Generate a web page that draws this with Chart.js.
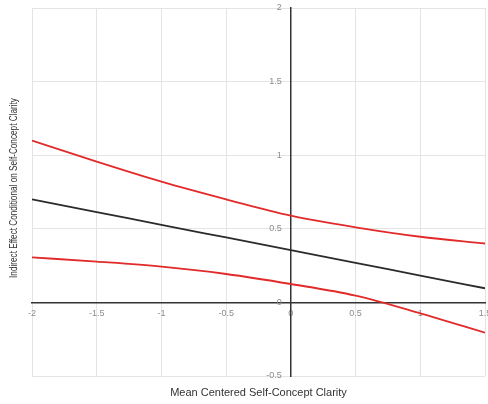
<!DOCTYPE html>
<html>
<head>
<meta charset="utf-8">
<script src="https://cdn.jsdelivr.net/npm/chart.js@4/dist/chart.umd.min.js"></script>
<style>
  html, body { margin: 0; padding: 0; background: #fff; }
  #wrap { width: 488px; height: 404px; }
</style>
</head>
<body>
<div id="wrap"><canvas id="chart"></canvas></div>
<script>
const xValues = [-2, -1.5, -1, -0.5, 0, 0.5, 1, 1.5];
const effect = [0.70, 0.614, 0.527, 0.441, 0.355, 0.269, 0.182, 0.096];
const upperCI = [1.10, 0.956, 0.82, 0.70, 0.589, 0.51, 0.446, 0.40];
const lowerCI = [0.306, 0.277, 0.243, 0.193, 0.125, 0.046, -0.074, -0.206];
const xTitle = 'Mean Centered Self-Concept Clarity';
const yTitle = 'Indirect Effect Conditional on Self-Concept Clarity';

const pts = ys => xValues.map((x, i) => ({ x, y: ys[i] }));
const lineStyle = color => ({ borderColor: color, borderWidth: 1.8, pointRadius: 0, fill: false, cubicInterpolationMode: 'monotone' });
const tickFont = '9px "Liberation Sans", Arial, sans-serif';

// y tick labels sit to the left of the x=0 axis; titles sit outside the plot
const axisText = {
  id: 'axisText',
  afterDraw(chart) {
    const { ctx, chartArea: a, scales: { x, y } } = chart;
    ctx.save();
    ctx.fillStyle = '#8c8c8c';
    ctx.font = tickFont;
    ctx.textAlign = 'right';
    ctx.textBaseline = 'middle';
    const x0 = x.getPixelForValue(0);
    y.ticks.forEach(t => ctx.fillText(String(t.value), x0 - 9, y.getPixelForValue(t.value)));

    ctx.fillStyle = '#333';
    ctx.textAlign = 'center';
    ctx.font = '11px "Liberation Sans", Arial, sans-serif';
    ctx.fillText(xTitle, (a.left + a.right) / 2, 393);
    ctx.translate(14, 188);
    ctx.rotate(-Math.PI / 2);
    ctx.scale(0.82, 1);
    ctx.font = '10px "Liberation Sans", Arial, sans-serif';
    ctx.fillText(yTitle, 0, 0);
    ctx.restore();
  }
};

new Chart(document.getElementById('chart'), {
  type: 'line',
  data: {
    datasets: [
      { label: 'Upper', data: pts(upperCI), ...lineStyle('#e22a2a') },
      { label: 'Effect', data: pts(effect), ...lineStyle('#2b2b2b') },
      { label: 'Lower', data: pts(lowerCI), ...lineStyle('#e22a2a') },
    ]
  },
  options: {
    responsive: true,
    maintainAspectRatio: false,
    animation: false,
    layout: { padding: { left: 32, right: 3, top: 8, bottom: 28 } },
    plugins: { legend: { display: false }, tooltip: { enabled: false } },
    scales: {
      x: {
        type: 'linear', min: -2, max: 1.5, position: { y: 0 },
        ticks: { stepSize: 0.5, color: '#8c8c8c', font: { size: 9, family: '"Liberation Sans", Arial' }, padding: 6, callback: v => String(v) },
        grid: { color: '#e4e4e4', drawTicks: false },
        border: { color: '#333', width: 1.5 },
        afterFit: s => { s.paddingLeft = 0; s.paddingRight = 0; }
      },
      y: {
        type: 'linear', min: -0.5, max: 2, position: { x: 0 },
        ticks: { stepSize: 0.5, display: false },
        grid: { color: '#e4e4e4', drawTicks: false },
        border: { color: '#333', width: 1.5 }
      }
    }
  },
  plugins: [axisText]
});
</script>
</body>
</html>
